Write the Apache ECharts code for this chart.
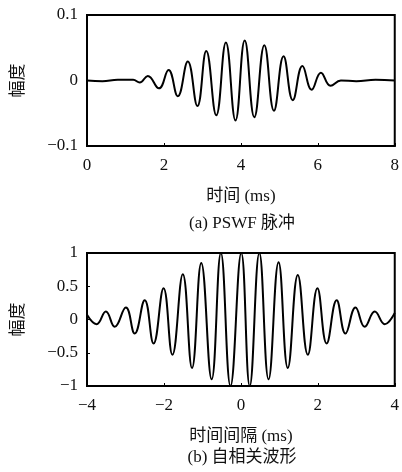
<!DOCTYPE html>
<html>
<head>
<meta charset="utf-8">
<script src="https://cdn.jsdelivr.net/npm/echarts@6/dist/echarts.min.js"></script>
<style>
  html, body { margin: 0; padding: 0; background: #fff; }
  #chart { width: 402px; height: 472px; }
</style>
</head>
<body>
<div id="chart"></div>
<script>
// (a) PSWF pulse: time in ms, amplitude
const pulseTime = [0, 0.4, 0.8, 1.2, 1.37, 1.58, 1.87, 2.12, 2.36, 2.62, 2.87, 3.10, 3.36, 3.61, 3.86,
  4.10, 4.35, 4.61, 4.86, 5.11, 5.35, 5.60, 5.84, 6.08, 6.33, 6.6, 7.0, 7.5, 8];
const pulseAmp = [0, -0.001, 0.001, 0.001, -0.003, 0.007, -0.012, 0.016, -0.024, 0.029, -0.039, 0.045, -0.053, 0.058, -0.061,
  0.061, -0.056, 0.054, -0.046, 0.037, -0.030, 0.022, -0.014, 0.012, -0.008, 0, -0.001, 0.001, 0];

// (b) autocorrelation: lag in ms, amplitude
const corrLag = [-4, -3.75, -3.51, -3.28, -2.99, -2.76, -2.50, -2.27, -2.01, -1.78, -1.51, -1.27, -1.03, -0.76,
  -0.52, -0.27, 0.01, 0.23, 0.48, 0.72, 0.98, 1.22, 1.48, 1.74, 1.99, 2.23, 2.49, 2.72, 2.98, 3.22, 3.48, 3.74, 4];
const corrAmp = [0.07, -0.07, 0.12, -0.11, 0.18, -0.21, 0.29, -0.36, 0.47, -0.53, 0.68, -0.73, 0.85, -0.90,
  1.0, -1.0, 1.0, -1.0, 1.0, -0.90, 0.86, -0.73, 0.67, -0.53, 0.47, -0.36, 0.29, -0.21, 0.18, -0.11, 0.12, -0.07, 0.1];

const FONT = '"Liberation Serif", "Noto Sans CJK SC", serif';
const minus = (v) => String(v).replace('-', '\u2212');

function pairs(xs, ys) {
  return xs.map((x, i) => [x, ys[i]]);
}

function xAxis(gridIndex, min, max, name) {
  return {
    type: 'value', gridIndex, min, max, interval: 2,
    name, nameLocation: 'middle', nameGap: 42,
    nameTextStyle: { fontFamily: FONT, fontSize: 17, color: '#111' },
    axisLine: { onZero: false, lineStyle: { color: '#000', width: 2 } },
    axisTick: { inside: true, length: 3, lineStyle: { color: '#000' } },
    axisLabel: { fontFamily: FONT, fontSize: 17, color: '#111', margin: 11, formatter: minus },
    splitLine: { show: false }
  };
}

function yAxis(gridIndex, min, max, interval) {
  return {
    type: 'value', gridIndex, min, max, interval,
    name: '幅度', nameLocation: 'middle', nameGap: 60,
    nameTextStyle: { fontFamily: FONT, fontSize: 17, color: '#111' },
    axisLine: { show: true, onZero: false, lineStyle: { color: '#000', width: 2 } },
    axisTick: { show: true, inside: true, length: 3, lineStyle: { color: '#000' } },
    axisLabel: { fontFamily: FONT, fontSize: 17, color: '#111', margin: 9, formatter: minus },
    splitLine: { show: false }
  };
}

const chart = echarts.init(document.getElementById('chart'));
chart.setOption({
  animation: false,
  grid: [
    { left: 87, top: 15, width: 310, height: 131, show: true, borderColor: '#000', borderWidth: 2 },
    { left: 87, top: 253, width: 310, height: 133, show: true, borderColor: '#000', borderWidth: 2 }
  ],
  xAxis: [xAxis(0, 0, 8, '时间 (ms)'), xAxis(1, -4, 4, '时间间隔 (ms)')],
  yAxis: [yAxis(0, -0.1, 0.1, 0.1), yAxis(1, -1, 1, 0.5)],
  graphic: [
    { type: 'text', x: 242, y: 224, style: { text: '(a) PSWF 脉冲', font: '17px ' + FONT, fill: '#111', align: 'center', verticalAlign: 'middle' } },
    { type: 'text', x: 242, y: 458, style: { text: '(b) 自相关波形', font: '17px ' + FONT, fill: '#111', align: 'center', verticalAlign: 'middle' } }
  ],
  series: [
    {
      type: 'line', xAxisIndex: 0, yAxisIndex: 0, data: pairs(pulseTime, pulseAmp),
      showSymbol: false, smooth: 0.45, lineStyle: { color: '#000', width: 2 }
    },
    {
      type: 'line', xAxisIndex: 1, yAxisIndex: 1, data: pairs(corrLag, corrAmp),
      showSymbol: false, smooth: 0.45, lineStyle: { color: '#000', width: 2 }
    }
  ]
});
</script>
</body>
</html>
